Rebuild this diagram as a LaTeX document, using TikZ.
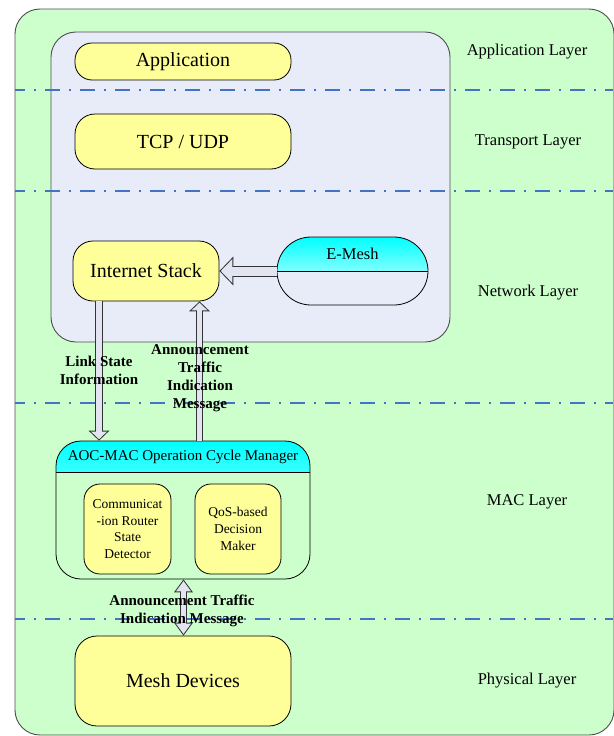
\documentclass[tikz,border=0pt]{standalone}
\usepackage{fontspec}
\setmainfont{Liberation Serif}
\usetikzlibrary{arrows.meta}

\definecolor{bggreen}{HTML}{CCFFCC}
\definecolor{stackblue}{HTML}{E7ECF8}
\definecolor{boxyellow}{HTML}{FFFF99}
\definecolor{headcyan}{HTML}{00FFFF}
\definecolor{sepblue}{HTML}{4472C4}
\definecolor{arrowfill}{HTML}{E2E4F2}
\definecolor{panelgray}{HTML}{4D4D4D}
\definecolor{arrowgray}{HTML}{333333}

\tikzset{
  box/.style={draw=black, line width=0.8pt, fill=boxyellow, rounded corners=#1, align=center},
  bigfont/.style={font=\fontsize{20}{24}\selectfont},
  layerfont/.style={font=\fontsize{16.5}{20}\selectfont},
  smallfont/.style={font=\fontsize{13.5}{16.7}\selectfont},
  msgfont/.style={font=\fontsize{15}{18}\selectfont\bfseries, align=center, inner sep=0pt},
  layerline/.style={draw=sepblue, line width=1.8pt, dash pattern=on 15pt off 9pt on 2pt off 9pt, dash phase=5pt},
  % hollow arrows: dark outline drawn first, light body drawn over it
  sideout/.style={draw=arrowgray, line width=11pt, -{Triangle[length=14pt,width=29pt,line width=0pt]}},
  sidein/.style={draw=arrowfill, line width=9pt, shorten >=1.39pt, -{Triangle[length=11.6pt,width=24pt,line width=0pt]}},
  linkout/.style={draw=arrowgray, line width=7.5pt, -{Triangle[length=10pt,width=21pt,line width=0pt]}},
  linkin/.style={draw=arrowfill, line width=5.5pt, shorten >=1.38pt, -{Triangle[length=7.6pt,width=16pt,line width=0pt]}},
  bothout/.style={draw=arrowgray, line width=7.5pt,
    {Triangle[length=13pt,width=19pt,line width=0pt]}-{Triangle[length=13pt,width=19pt,line width=0pt]}},
  bothin/.style={draw=arrowfill, line width=5.5pt, shorten >=1.69pt, shorten <=1.69pt,
    {Triangle[length=10.3pt,width=15.1pt,line width=0pt]}-{Triangle[length=10.3pt,width=15.1pt,line width=0pt]}},
}

\begin{document}
\begin{tikzpicture}[x=1pt, y=-1pt]
\useasboundingbox (0,0) rectangle (613,736);

% background panels
\draw[draw=panelgray, line width=0.9pt, fill=bggreen, rounded corners=25pt] (15,9) rectangle (614,735);
\draw[draw=panelgray, line width=0.9pt, fill=stackblue, rounded corners=25pt] (51,32) rectangle (450,342);

% layer separators
\foreach \y in {90,191,403,619}
  \draw[layerline] (15,\y) -- (613,\y);

% protocol stack
\node[box=17pt, bigfont, minimum width=216pt, minimum height=37pt] (app) at (183,61.5) {Application};
\node[box=20pt, bigfont, minimum width=216pt, minimum height=55pt] (tcp) at (183,141.5) {TCP / UDP};
\node[box=20pt, bigfont, minimum width=146pt, minimum height=60pt] (stack) at (146,271) {Internet Stack};

\node[draw=black, line width=0.8pt, fill=stackblue, rounded corners=34pt,
      minimum width=151pt, minimum height=68pt,
      path picture={
        \shade[sharp corners, top color=headcyan, bottom color=white]
          (path picture bounding box.north west) rectangle (path picture bounding box.east);
        \draw[sharp corners, line width=0.8pt] (path picture bounding box.west) -- (path picture bounding box.east);
      }] (emesh) at (352.5,271) {};
\node[layerfont] (emeshtitle) at (352.5,254) {E-Mesh};

% MAC block
\node[draw=black, line width=0.8pt, fill=bggreen, rounded corners=25pt,
      minimum width=254pt, minimum height=138pt,
      path picture={
        \shade[sharp corners, top color=headcyan, bottom color=white]
          (path picture bounding box.north west) rectangle ([yshift=-31pt]path picture bounding box.north east);
        \draw[sharp corners, line width=0.8pt] ([yshift=-31pt]path picture bounding box.north west) -- ([yshift=-31pt]path picture bounding box.north east);
      }] (aoc) at (183,510) {};
\node[font=\fontsize{15}{18}\selectfont] (aoctitle) at (183,457) {AOC-MAC Operation Cycle Manager};
\node[box=16pt, smallfont, minimum width=87pt, minimum height=90pt] (detector) at (127.5,529) {Communicat\\-ion Router\\State\\Detector};
\node[box=16pt, smallfont, minimum width=86pt, minimum height=90pt] (qos) at (238,529) {QoS-based\\Decision\\Maker};

% physical
\node[box=22pt, bigfont, minimum width=216pt, minimum height=90pt] (mesh) at (183,681) {Mesh Devices};

% layer names
\node[layerfont] (applayer) at (527,52) {Application Layer};
\node[layerfont] (translayer) at (528,142) {Transport Layer};
\node[layerfont] (netlayer) at (528,293) {Network Layer};
\node[layerfont] (maclayer) at (527,502) {MAC Layer};
\node[layerfont] (phylayer) at (527,681) {Physical Layer};

% arrows
\coordinate (linkx) at (99,0);
\coordinate (annx) at (199.5,0);
\coordinate (meshx) at (183.5,0);
\draw[sideout] (emesh.west) -- (stack.east);
\draw[sidein] (emesh.west) -- (stack.east);
\draw[linkout] (stack.south -| linkx) -- (aoc.north -| linkx);
\draw[linkin] (stack.south -| linkx) -- (aoc.north -| linkx);
\draw[linkout] (aoc.north -| annx) -- (stack.south -| annx);
\draw[linkin] (aoc.north -| annx) -- (stack.south -| annx);
\draw[bothout] (aoc.south -| meshx) -- (mesh.north -| meshx);
\draw[bothin] (aoc.south -| meshx) -- (mesh.north -| meshx);

% arrow labels
\node[msgfont] (linklabel) at (99,370) {Link State\\Information};
\node[msgfont] (annlabel) at (200,378) {Announcement\\Traffic\\Indication\\Message};
\node[msgfont] (meshlabel) at (182,611) {Announcement Traffic\\Indication Message};

\end{tikzpicture}
\end{document}
